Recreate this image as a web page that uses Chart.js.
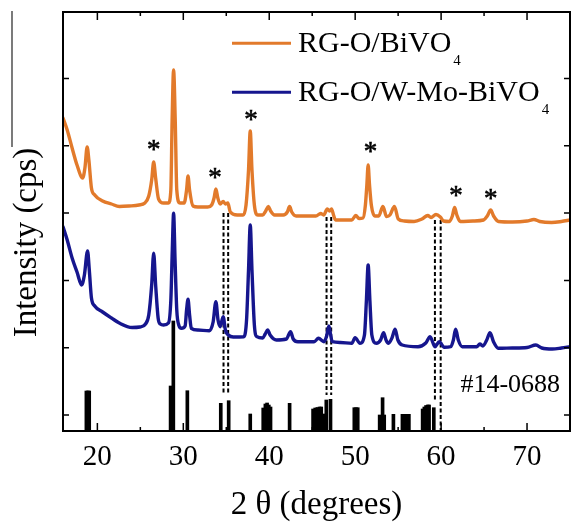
<!DOCTYPE html>
<html>
<head>
<meta charset="utf-8">
<script src="https://cdn.jsdelivr.net/npm/chart.js@4.4.1/dist/chart.umd.min.js"></script>
<style>
  body { margin: 0; background: #fff; }
  #wrap { width: 579px; height: 522px; }
</style>
</head>
<body>
<div id="wrap"><canvas id="xrd"></canvas></div>
<script>
// RG-O/BiVO4 : 2 theta (deg) / intensity (a.u.)
const bivoX = [16.0, 16.49, 17.06, 17.63, 18.29, 18.55, 18.81, 19.01, 19.31, 19.69, 20.61, 21.64, 22.55, 23.69, 24.84,
  25.52, 25.98, 26.32, 26.55, 26.78, 27.12, 27.70, 28.27, 28.55, 28.70, 28.87, 29.06, 29.24, 29.60, 30.10,
  30.38, 30.55, 30.73, 31.13, 31.70, 32.84, 33.30, 33.58, 33.79, 34.02, 34.29, 34.64, 34.90, 35.18, 35.47,
  36.27, 36.96, 37.30, 37.59, 37.79, 37.99, 38.27, 38.67, 39.24, 39.59, 39.90, 40.16, 40.62, 41.64, 42.10,
  42.37, 42.62, 43.13, 44.27, 45.42, 45.99, 46.33, 46.76, 47.02, 47.25, 47.48, 47.71, 48.85, 49.61, 50.07,
  50.45, 50.91, 51.19, 51.36, 51.51, 51.67, 51.88, 52.28, 52.74, 53.23, 53.65, 54.05, 54.57, 55.02, 55.71,
  56.85, 57.77, 58.45, 58.83, 59.40, 59.91, 60.28, 60.97, 61.31, 61.57, 61.83, 62.23, 63.71, 64.94, 65.37,
  65.77, 66.11, 66.69, 68.29, 70.00, 70.80, 71.49, 72.86, 74.00, 75.0];
const bivoY = [297, 285, 267, 250, 237, 247, 268, 255, 227, 220, 214, 211, 208.5, 209, 210,
  212, 219, 235, 253, 237, 216, 212, 212, 225, 295, 345, 295, 225, 212, 212,
  225, 239, 225, 209, 208, 208, 210, 217, 226, 217, 211, 213.5, 211, 212, 203,
  200, 200, 210, 245, 284, 245, 210, 200, 200, 204, 208.5, 204, 200, 200, 203,
  208.5, 203, 199, 199, 199, 201.5, 200, 206, 204, 206, 200, 195, 195, 195, 199.5,
  196.5, 197, 210, 230, 250, 230, 210, 199, 199, 208.5, 198.5, 200, 208.5, 196, 194,
  193.5, 196, 199.5, 197.5, 200.5, 198, 194, 193.5, 199, 207.5, 200, 193.5, 194, 195, 199,
  205, 199, 193.5, 193, 194, 195.5, 193.5, 192.5, 193.5, 195];

// RG-O/W-Mo-BiVO4
const wmoX = [16.0, 16.49, 17.06, 17.63, 18.17, 18.49, 18.86, 19.06, 19.31, 19.69, 20.61, 21.64, 22.55, 24.04, 24.95,
  25.60, 25.98, 26.32, 26.55, 26.78, 27.07, 27.32, 27.70, 28.27, 28.55, 28.72, 28.87, 29.04, 29.24, 29.47,
  29.79, 30.21, 30.38, 30.55, 30.73, 30.93, 31.70, 33.03, 33.47, 33.79, 34.04, 34.29, 34.64, 34.90, 35.24,
  35.81, 37.04, 37.36, 37.59, 37.79, 37.99, 38.27, 38.56, 39.24, 39.53, 39.82, 40.10, 40.84, 41.99, 42.48,
  42.79, 43.33, 45.22, 45.73, 46.37, 46.68, 46.94, 47.13, 47.33, 48.28, 49.61, 49.99, 50.56, 51.08, 51.31,
  51.51, 51.71, 51.94, 52.47, 52.96, 53.31, 53.59, 53.88, 54.28, 54.65, 54.97, 55.48, 57.31, 58.22, 58.72,
  59.29, 59.79, 60.36, 61.12, 61.43, 61.69, 62.00, 62.46, 64.17, 64.51, 64.86, 65.31, 65.69, 66.11, 66.65,
  68.29, 70.00, 71.03, 71.72, 72.94, 74.00, 75.0];
const wmoY = [188.3, 175, 157, 143, 130, 140, 164, 145, 117, 109, 103, 97, 92, 87.5, 88,
  91, 100, 130, 161.7, 130, 97, 91, 90, 92, 115, 165, 201.7, 155, 105, 90,
  86.7, 89, 105, 115.7, 100, 86.7, 85, 84.3, 93, 113.3, 95, 88.3, 98.3, 85, 80,
  78, 78.3, 95, 145, 190, 145, 90, 78.3, 77, 81, 85, 80, 75, 76, 83.3,
  76, 73.3, 73.3, 76.7, 73.3, 79, 89, 81, 73.3, 72.5, 71.7, 77.3, 71.7, 80, 115,
  150, 115, 80, 71.7, 75, 82.3, 75, 71.7, 77, 85.7, 75, 70, 68.3, 72, 78.3,
  68.3, 73.3, 67.7, 68.3, 75, 85.7, 75, 68.3, 68.3, 71, 69, 75, 82.3, 73, 66.7,
  67, 67.5, 70, 67, 66, 67, 68.3];

// JCPDS #14-0688 reference lines
const pdfX = [18.72, 18.90, 19.05, 28.52, 28.84, 30.47, 34.36, 35.28, 37.79, 39.30, 39.55, 39.75, 39.95, 40.15,
  42.37, 45.10, 45.35, 45.60, 45.85, 46.05, 46.45, 46.64, 47.13, 49.90, 50.10, 50.30, 52.85, 53.19, 53.38,
  54.45, 55.50, 55.75, 56.00, 56.25, 57.85, 58.05, 58.25, 58.45, 58.60, 59.15];
const pdfY = [24, 24, 24, 29, 94, 24.3, 11.7, 14.3, 1, 7, 11, 12, 10, 8,
  11.7, 6, 7, 7.5, 8, 8, 1, 15, 15.7, 7.3, 7.3, 7.3, 0, 17.3, 0,
  0.7, 0.7, 0.7, 0.7, 0.7, 6, 8, 9.5, 10, 10, 7.3];

// dashed guide lines
const dashX = [34.68, 35.22, 46.67, 47.21, 59.28, 59.95];
const dashTop = [202, 202, 198, 198, 195, 195];
const dashBottom = [20, 20, 20, 20, 15, -16];

// asterisk marks
const starX = [26.55, 33.70, 37.87, 51.79, 61.73, 65.77];
const starY = [270, 242, 299.5, 267.7, 223.3, 220.7];

const xTickLabels = [20, 30, 40, 50, 60, 70];
const yTickVals = [0, 67.3, 134.6, 201.9, 269.2, 336.5];
const legendNames = ['RG-O/BiVO', 'RG-O/W-Mo-BiVO'];
const cardLabel = '#14-0688';

const orange = '#E27A2B';
const navy = '#16168E';
const serif = '"Liberation Serif", "Times New Roman", serif';

const toPts = (xs, ys) => xs.map((v, i) => ({x: v, y: ys[i]}));

const decor = {
  id: 'decor',
  afterDatasetsDraw(chart) {
    const {ctx, chartArea: a, scales: {x, y}} = chart;
    ctx.save();
    ctx.strokeStyle = '#000';
    ctx.lineWidth = 1.5;
    ctx.beginPath();
    x.ticks.forEach(t => {
      const px = x.getPixelForValue(t.value);
      const len = t.value % 10 === 0 ? 8 : 4;
      ctx.moveTo(px, a.bottom); ctx.lineTo(px, a.bottom - len);
      ctx.moveTo(px, a.top); ctx.lineTo(px, a.top + len);
    });
    y.ticks.forEach(t => {
      const py = y.getPixelForValue(t.value);
      ctx.moveTo(a.left, py); ctx.lineTo(a.left + 6, py);
      ctx.moveTo(a.right, py); ctx.lineTo(a.right - 6, py);
    });
    ctx.stroke();
    ctx.lineWidth = 2;
    ctx.strokeRect(a.left, a.top, a.right - a.left, a.bottom - a.top);

    // asterisks
    ctx.fillStyle = '#000';
    ctx.strokeStyle = '#000';
    ctx.lineWidth = 0.6;
    ctx.font = '27px ' + serif;
    ctx.textAlign = 'center';
    ctx.textBaseline = 'alphabetic';
    const m = ctx.measureText('*');
    const shift = (m.actualBoundingBoxAscent - m.actualBoundingBoxDescent) / 2;
    starX.forEach((v, i) => {
      const sx = x.getPixelForValue(v), sy = y.getPixelForValue(starY[i]) + shift;
      ctx.fillText('*', sx, sy);
      ctx.strokeText('*', sx, sy);
    });

    // card number
    ctx.textAlign = 'left';
    ctx.font = '26px ' + serif;
    ctx.fillText(cardLabel, x.getPixelForValue(62.25), y.getPixelForValue(23));

    // legend
    [orange, navy].forEach((c, i) => {
      const ly = 43.3 + i * 49;
      ctx.strokeStyle = c;
      ctx.lineWidth = 3;
      ctx.beginPath();
      ctx.moveTo(232, ly); ctx.lineTo(291, ly);
      ctx.stroke();
      ctx.fillStyle = '#000';
      ctx.font = '30px ' + serif;
      const base = ly + 8.6;
      ctx.fillText(legendNames[i], 298, base);
      const w = ctx.measureText(legendNames[i]).width;
      ctx.font = '15px ' + serif;
      ctx.fillText('4', 298 + w + 2, base + 13);
    });

    // y title
    ctx.save();
    ctx.translate(36, 242.5);
    ctx.rotate(-Math.PI / 2);
    ctx.font = '33px ' + serif;
    ctx.textAlign = 'center';
    ctx.fillText('Intensity (cps)', 0, 0);
    ctx.restore();

    // stray frame edge at far left
    ctx.strokeStyle = '#222';
    ctx.lineWidth = 1.2;
    ctx.beginPath();
    ctx.moveTo(12, 11); ctx.lineTo(12, 147);
    ctx.stroke();
    ctx.restore();
  }
};

const lineStyle = {type: 'line', borderWidth: 3.4, pointRadius: 0, cubicInterpolationMode: 'monotone',
  borderJoinStyle: 'round', borderCapStyle: 'round'};
const datasets = [
  {...lineStyle, data: toPts(bivoX, bivoY), borderColor: orange, order: 1},
  {...lineStyle, data: toPts(wmoX, wmoY), borderColor: navy, order: 2}
];
dashX.forEach((v, i) => {
  datasets.push({
    type: 'line',
    data: [{x: v, y: dashTop[i]}, {x: v, y: dashBottom[i]}],
    borderColor: '#000', borderWidth: 2, borderDash: [4, 2.5],
    pointRadius: 0, order: 3
  });
});
datasets.push({type: 'bar', data: toPts(pdfX, pdfY), backgroundColor: '#000', borderWidth: 0,
  barThickness: 3, base: -16, order: 4});

new Chart(document.getElementById('xrd'), {
  type: 'line',
  data: {datasets},
  options: {
    responsive: true,
    maintainAspectRatio: false,
    animation: false,
    events: [],
    layout: {padding: {top: 12, right: 2, left: 0, bottom: 0}},
    plugins: {legend: {display: false}, tooltip: {enabled: false}},
    scales: {
      x: {
        type: 'linear', min: 16, max: 75, offset: false,
        grid: {display: false, drawTicks: false},
        border: {display: false},
        ticks: {
          stepSize: 5, includeBounds: false, autoSkip: false, maxRotation: 0, padding: 9,
          color: '#000', font: {family: serif, size: 29},
          callback: v => xTickLabels.includes(v) ? String(v) : ''
        },
        title: {display: true, text: '2 θ (degrees)', color: '#000',
          font: {family: serif, size: 33, lineHeight: 1}, padding: 0},
        afterFit(s) { s.height = 91; }
      },
      y: {
        type: 'linear', min: -16, max: 403,
        grid: {display: false},
        border: {display: false},
        ticks: {display: false},
        afterBuildTicks(s) { s.ticks = yTickVals.map(v => ({value: v})); },
        afterFit(s) { s.width = 63; }
      }
    }
  },
  plugins: [decor]
});
</script>
</body>
</html>
